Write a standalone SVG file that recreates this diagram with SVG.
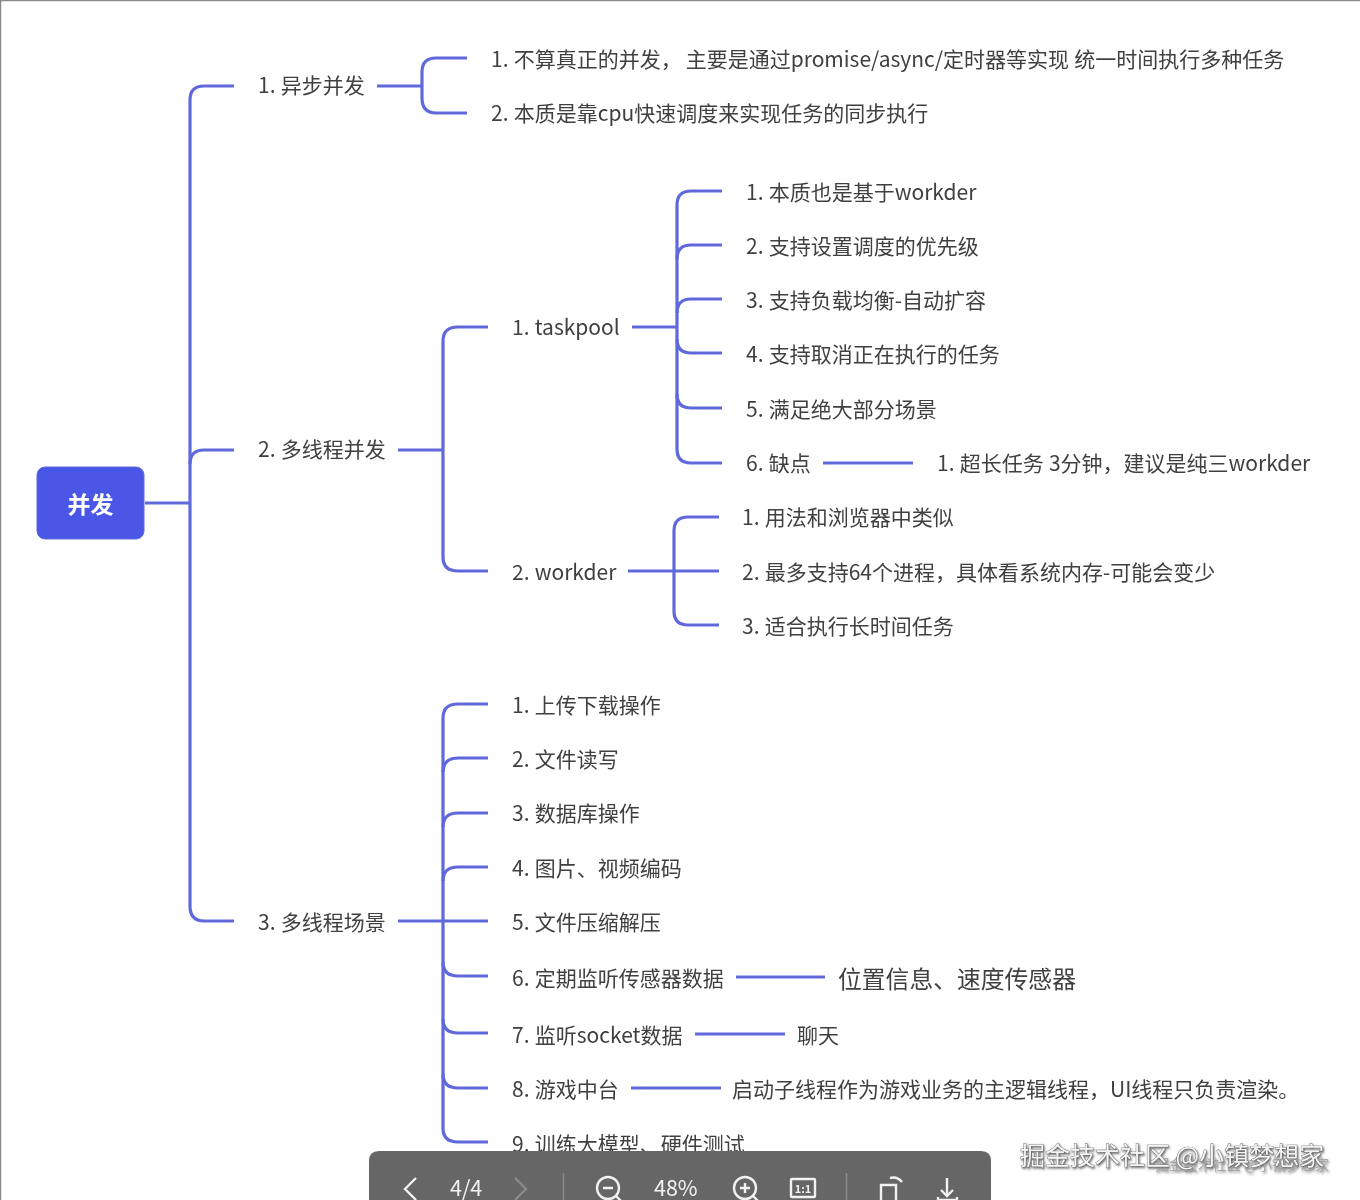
<svg xmlns="http://www.w3.org/2000/svg" width="1360" height="1200" viewBox="0 0 1360 1200">
<defs>
<style>
text{font-family:"Noto Sans CJK SC","Noto Sans",sans-serif;font-size:21px;fill:#3f3f3f;word-spacing:0.5px}
.c path{fill:none;stroke:#6069dc;stroke-width:3.2;stroke-linecap:butt}
.tb{fill:#f2f2f2;font-size:21.500px}
.ic{fill:none;stroke:#f2f2f2;stroke-width:2.4}
.wm{font-size:25px;fill:#f4f4f4;stroke:#555;stroke-width:.7;paint-order:stroke;word-spacing:0}
</style>
<filter id="blur" x="-5%" y="-20%" width="110%" height="140%"><feGaussianBlur stdDeviation="0.5"/></filter>
<filter id="sh" x="-5%" y="-20%" width="110%" height="140%"><feDropShadow dx="1" dy="1.5" stdDeviation="0.8" flood-color="#333" flood-opacity=".8"/></filter>
</defs>
<rect width="1360" height="1200" fill="#fff"/>
<path d="M0.5 1200V0.5H1360" fill="none" stroke="#8a8a8a" stroke-width="1.5"/>
<g class="c" id="connectors" filter="url(#blur)">
<path d="M145 503H190"/>
<path d="M234 86H204Q190 86 190 100V906Q190 921 204 921H234"/>
<path d="M234 450H204Q190 450 190 464"/>
<path d="M377 86H422"/>
<path d="M467 58H436Q422 58 422 72V98Q422 113 436 113H467"/>
<path d="M398 450H443"/>
<path d="M488 327H458Q443 327 443 341V557Q443 571 458 571H488"/>
<path d="M632 327H677"/>
<path d="M722 191H691Q677 191 677 205V449Q677 463 691 463H722"/>
<path d="M722 245H691Q677 245 677 259"/>
<path d="M722 299H691Q677 299 677 313"/>
<path d="M722 353H691Q677 353 677 339"/>
<path d="M722 408H691Q677 408 677 394"/>
<path d="M823 463H913"/>
<path d="M628 571H673"/>
<path d="M719 517H688Q674 517 674 531V611Q674 625 688 625H719"/>
<path d="M674 571H719"/>
<path d="M398 921H443"/>
<path d="M488 704H458Q443 704 443 718V1128Q443 1142 458 1142H488"/>
<path d="M488 758H458Q443 758 443 772"/>
<path d="M488 813H458Q443 813 443 827"/>
<path d="M488 867H458Q443 867 443 881"/>
<path d="M443 921H488"/>
<path d="M488 976H458Q443 976 443 962"/>
<path d="M488 1033H458Q443 1033 443 1019"/>
<path d="M488 1088H458Q443 1088 443 1074"/>
<path d="M736 977H825"/>
<path d="M695 1034H785"/>
<path d="M631 1088H721"/>
</g>
<g filter="url(#blur)">
<g id="root"><rect x="37" y="467" width="107" height="72" rx="8" fill="#4a57e6" stroke="#6069dc"/><text x="90.500" y="513" text-anchor="middle" style="fill:#fff;font-size:23px;font-weight:700">并发</text></g>
<g id="n1"><text x="258" y="93">1. 异步并发</text></g>
<g id="n11"><text x="491" y="67">1. 不算真正的并发，<tspan dx="4">主要是通过promise/async/定时器等实现 统一时间执行多种任务</tspan></text></g>
<g id="n12"><text x="491" y="121">2. 本质是靠cpu快速调度来实现任务的同步执行</text></g>
<g id="n2"><text x="258" y="457">2. 多线程并发</text></g>
<g id="n21"><text x="512" y="335">1. taskpool</text></g>
<g id="n211"><text x="746" y="200">1. 本质也是基于workder</text></g>
<g id="n212"><text x="746" y="254">2. 支持设置调度的优先级</text></g>
<g id="n213"><text x="746" y="308">3. 支持负载均衡-自动扩容</text></g>
<g id="n214"><text x="746" y="362">4. 支持取消正在执行的任务</text></g>
<g id="n215"><text x="746" y="417">5. 满足绝大部分场景</text></g>
<g id="n216"><text x="746" y="471">6. 缺点</text></g>
<g id="n2161"><text x="937" y="471">1. 超长任务 3分钟，建议是纯三workder</text></g>
<g id="n22"><text x="512" y="580">2. workder</text></g>
<g id="n221"><text x="742" y="525">1. 用法和浏览器中类似</text></g>
<g id="n222"><text x="742" y="580">2. 最多支持64个进程，具体看系统内存-可能会变少</text></g>
<g id="n223"><text x="742" y="634">3. 适合执行长时间任务</text></g>
<g id="n3"><text x="258" y="930">3. 多线程场景</text></g>
<g id="n31"><text x="512" y="713">1. 上传下载操作</text></g>
<g id="n32"><text x="512" y="767">2. 文件读写</text></g>
<g id="n33"><text x="512" y="821">3. 数据库操作</text></g>
<g id="n34"><text x="512" y="876">4. 图片、视频编码</text></g>
<g id="n35"><text x="512" y="930">5. 文件压缩解压</text></g>
<g id="n36"><text x="512" y="986">6. 定期监听传感器数据</text></g>
<g id="n361"><text x="838" y="988" style="font-size:23.800px">位置信息、速度传感器</text></g>
<g id="n37"><text x="512" y="1043">7. 监听socket数据</text></g>
<g id="n371"><text x="797" y="1043">聊天</text></g>
<g id="n38"><text x="512" y="1097">8. 游戏中台</text></g>
<g id="n381"><text x="732" y="1097">启动子线程作为游戏业务的主逻辑线程，UI线程只负责渲染。</text></g>
<g id="n39"><text x="512" y="1152">9. 训练大模型、硬件测试</text></g>
</g>
<g id="toolbar" filter="url(#blur)">
<path d="M369 1200V1161Q369 1151 379 1151H981Q991 1151 991 1161V1200Z" fill="#666"/>
<path class="ic" d="M416 1178L405 1189L416 1200"/>
<text class="tb" x="450" y="1196">4/4</text>
<path d="M515 1178L526 1189L515 1200" fill="none" stroke="#8a8a8a" stroke-width="2.400"/>
<path d="M563.500 1173V1200M846.500 1173V1200" stroke="#8a8a8a" stroke-width="1.500"/>
<circle class="ic" cx="608" cy="1188" r="11"/><path class="ic" d="M603 1188H613M616 1196L624 1204"/>
<text class="tb" x="654" y="1196">48%</text>
<circle class="ic" cx="745" cy="1188" r="11"/><path class="ic" d="M740 1188H750M745 1183V1193M753 1196L761 1204"/>
<rect class="ic" x="791" y="1179" width="24" height="18" rx="1"/>
<text x="803" y="1193" text-anchor="middle" style="fill:#f2f2f2;font-size:11px;font-weight:700">1:1</text>
<path class="ic" d="M881 1200V1185H896V1200M890 1178Q897 1176 902 1182"/>
<path class="ic" d="M947 1178V1196M941 1190L947 1196L953 1190M938 1197V1200H957V1197"/>
</g>
<g id="watermark" filter="url(#sh)">
<text x="1155" y="1170" style="font-size:14.300px;fill:#9a9a9a;word-spacing:0" opacity=".8">掘金技术社区 @小镇梦想家</text>
<text class="wm" x="1020" y="1165">掘金技术社区 @小镇梦想家</text>
</g>
</svg>
